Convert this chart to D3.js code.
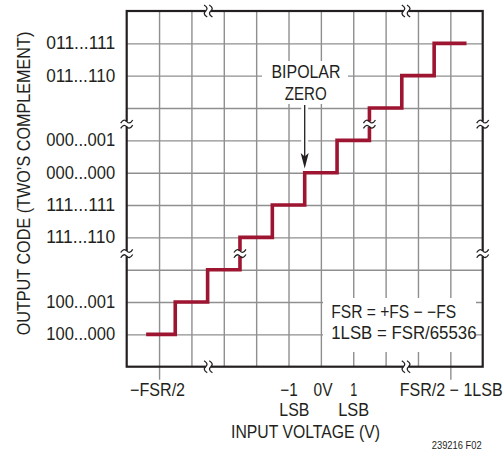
<!DOCTYPE html>
<html>
<head>
<meta charset="utf-8">
<script src="https://cdn.jsdelivr.net/npm/d3@7"></script>
<style>
  body { margin: 0; background: #fff; }
  text { font-family: "Liberation Sans", Arial, sans-serif; fill: #231f20; }
</style>
</head>
<body>
<svg id="chart" width="504" height="451"></svg>
<script>
// output codes (grid level counted from the bottom)
const codeLevels = [1, 2, 4, 5, 6, 7, 9, 10]
const codeLabels = ["100...000", "100...001", "111...110", "111...111",
                    "000...000", "000...001", "011...110", "011...111"]

// input voltage ticks (grid column)
const inputTicks = [1, 5, 6, 7, 10]
const inputLabels = ["\u2212FSR/2", "\u22121", "0V", "1", "FSR/2 \u2212 1LSB"]
const inputSub = ["", "LSB", "", "LSB", ""]

// transfer staircase: code edges and code level of each step
const stepEdges = [0.6, 1.5, 2.5, 3.5, 4.5, 5.5, 6.5, 7.5, 8.5, 9.5, 10.5]
const stepCodes = [1, 2, 3, 4, 5, 6, 7, 8, 9, 10]

// scale breaks
const breaksOnX = [2.52, 8.63]
const breaksOnY = [3.5, 7.5]
const breaksOnStep = [[3.5, 3.5], [7.5, 7.5]]

const width = 504
const height = 451
const frame = { left: 126.7, right: 482.7, top: 11, bottom: 366.7 }
const ink = "#231f20"
const red = "#9e1532"

// the original type is a condensed face; squeeze Liberation Sans to the measured widths
function fit(sel, len) {
  return sel.each(function () {
    const w = this.getComputedTextLength()
    if (!w) return
    const s = len / w
    const ax = +this.getAttribute("x") || 0
    const prev = this.getAttribute("transform") || ""
    this.setAttribute("transform",
      `${prev} translate(${ax},0) scale(${s},1) translate(${-ax},0)`)
  })
}

const svg = d3.select("#chart")
svg.append("rect").attr("width", width).attr("height", height).attr("fill", "#fff")

const x = d3.scaleLinear().domain([0, 11]).range([frame.left, frame.right])
const y = d3.scaleLinear().domain([0, 11]).range([frame.bottom, frame.top])
const grid = d3.range(1, 11)

// grid
const gx = svg.append("g")
  .attr("transform", `translate(0,${frame.bottom})`)
  .call(d3.axisBottom(x).tickValues(grid).tickSize(-(frame.bottom - frame.top)).tickFormat(""))
gx.select(".domain").remove()
gx.selectAll("line").attr("stroke", "#8f8f8f").attr("stroke-width", 1.4)
// ticks below axis at -FSR/2 and FSR/2-1LSB
gx.selectAll(".tick").filter(d => d === 1 || d === 10).append("line")
  .attr("y1", 0).attr("y2", 13).attr("stroke", "#8f8f8f").attr("stroke-width", 1.4)

const gy = svg.append("g")
  .attr("transform", `translate(${frame.left},0)`)
  .call(d3.axisLeft(y).tickValues(grid).tickSize(-(frame.right - frame.left)).tickFormat(""))
gy.select(".domain").remove()
gy.selectAll("line").attr("stroke", "#8f8f8f").attr("stroke-width", 1.4)

// white boxes behind annotations
svg.append("rect").attr("x", 262).attr("y", 61).attr("width", 86).attr("height", 43).attr("fill", "#fff")
svg.append("rect").attr("x", 323).attr("y", 298).attr("width", 153).attr("height", 54).attr("fill", "#fff")

// frame
svg.append("rect")
  .attr("x", frame.left).attr("y", frame.top)
  .attr("width", frame.right - frame.left).attr("height", frame.bottom - frame.top)
  .attr("fill", "none").attr("stroke", ink).attr("stroke-width", 2.2)

// code labels
const codeAxis = svg.append("g")
  .attr("transform", `translate(${frame.left},0)`)
  .call(d3.axisLeft(y).tickValues(codeLevels).tickSize(0).tickPadding(11.5)
    .tickFormat((d, i) => codeLabels[i]))
codeAxis.select(".domain").remove()
fit(codeAxis.selectAll("text").attr("fill", ink).attr("font-size", 17.5)
  .style("font-family", '"Liberation Sans", Arial, sans-serif'), 69)

// input labels
const inputWidths = [55, 17.5, 19, 7, 103]
const inputShift = [-2, 0, 1.6, 0, 0.3]
const subWidths = [0, 30, 0, 31, 0]
const subShift = [0, 5.3, 0, 0, 0]
const inputAxis = svg.append("g")
  .attr("transform", `translate(0,${frame.bottom})`)
  .call(d3.axisBottom(x).tickValues(inputTicks).tickSize(0).tickFormat(""))
inputAxis.select(".domain").remove()
inputAxis.selectAll(".tick").each(function (d, i) {
  const t = d3.select(this)
  fit(t.append("text").attr("x", inputShift[i]).attr("y", 29).attr("text-anchor", "middle")
    .attr("font-size", 18).text(inputLabels[i]), inputWidths[i])
  if (inputSub[i]) {
    fit(t.append("text").attr("x", subShift[i]).attr("y", 49.5).attr("text-anchor", "middle")
      .attr("font-size", 18).text(inputSub[i]), subWidths[i])
  }
})

// staircase
const stepPts = []
stepCodes.forEach((c, i) => {
  stepPts.push([stepEdges[i], c], [stepEdges[i + 1], c])
})
svg.append("path")
  .datum(stepPts)
  .attr("d", d3.line().x(d => x(d[0])).y(d => y(d[1])))
  .attr("fill", "none").attr("stroke", red).attr("stroke-width", 3.6)
  .attr("stroke-linejoin", "miter").attr("stroke-linecap", "butt")

// break marks
const tilde = "M-6,1.6 C-3.5,-2.6 -1.5,-1.6 0,0 S3.5,2.6 6,-1.6"
function breakMark(cx, cy, vertical) {
  const g = svg.append("g").attr("transform", `translate(${cx},${cy}) rotate(${vertical ? 90 : 0})`)
  g.append("rect").attr("x", -7).attr("y", -2.6).attr("width", 14).attr("height", 5.2).attr("fill", "#fff")
  ;[-2.6, 2.6].forEach(o => {
    g.append("path").attr("d", tilde).attr("transform", `translate(0,${o})`)
      .attr("fill", "none").attr("stroke", ink).attr("stroke-width", 1.3)
  })
}
breaksOnY.forEach(v => { breakMark(frame.left, y(v), false); breakMark(frame.right, y(v), false) })
breaksOnX.forEach(v => { breakMark(x(v), frame.top, true); breakMark(x(v), frame.bottom, true) })
breaksOnStep.forEach(([a, b]) => breakMark(x(a), y(b), false))

// bipolar zero annotation
const bz = svg.append("g").attr("font-size", 18).attr("text-anchor", "middle")
fit(bz.append("text").attr("x", 306).attr("y", 78.3).text("BIPOLAR"), 69)
fit(bz.append("text").attr("x", 305.7).attr("y", 100).text("ZERO"), 42)
svg.append("line").attr("x1", x(5.5)).attr("x2", x(5.5)).attr("y1", 106).attr("y2", 156)
  .attr("stroke", "#fff").attr("stroke-width", 7)
svg.append("line").attr("x1", x(5.5)).attr("x2", x(5.5)).attr("y1", 105).attr("y2", 158)
  .attr("stroke", ink).attr("stroke-width", 1.3)
svg.append("path")
  .attr("d", `M${x(5.5)},168.5 L${x(5.5) - 4},153 L${x(5.5)},156.5 L${x(5.5) + 4},153 Z`)
  .attr("fill", ink)

// FSR note
const note = svg.append("g").attr("font-size", 18)
fit(note.append("text").attr("x", 331.2).attr("y", 318.3).text("FSR = +FS \u2212 \u2212FS"), 125)
fit(note.append("text").attr("x", 331.2).attr("y", 339.2).text("1LSB = FSR/65536"), 145.5)

// axis titles
fit(svg.append("text")
  .attr("transform", `translate(30,${(32 + 335) / 2}) rotate(-90)`)
  .attr("text-anchor", "middle").attr("font-size", 18)
  .text("OUTPUT CODE (TWO\u2019S COMPLEMENT)"), 304)
fit(svg.append("text")
  .attr("x", 305.5).attr("y", 438).attr("text-anchor", "middle")
  .attr("font-size", 18)
  .text("INPUT VOLTAGE (V)"), 149)

fit(svg.append("text")
  .attr("x", 481.7).attr("y", 449).attr("text-anchor", "end")
  .attr("font-size", 10).attr("fill", "#444")
  .text("239216 F02"), 50)
</script>
</body>
</html>
